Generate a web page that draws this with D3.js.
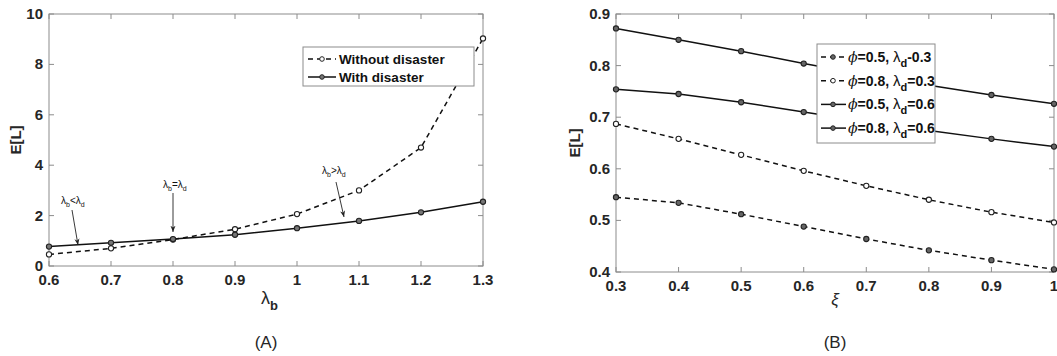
<!DOCTYPE html>
<html>
<head>
<meta charset="utf-8">
<script src="https://cdn.jsdelivr.net/npm/d3@7"></script>
<style>
  html, body { margin: 0; padding: 0; background: #fff; overflow: hidden; }
  svg { display: block; }
  text { font-family: Arial, "Liberation Sans", sans-serif; }
</style>
</head>
<body>
<svg id="chart" width="1057" height="356"></svg>
<script>
// ---- panel A data ----
const lambdaB = [0.6, 0.7, 0.8, 0.9, 1.0, 1.1, 1.2, 1.3]
const withoutDisaster = [0.46, 0.70, 1.05, 1.46, 2.06, 3.0, 4.7, 9.03]
const withDisaster = [0.77, 0.92, 1.07, 1.24, 1.50, 1.79, 2.13, 2.55]
const xTicksA = [0.6, 0.7, 0.8, 0.9, 1, 1.1, 1.2, 1.3]
const yTicksA = [0, 2, 4, 6, 8, 10]

// ---- panel B data ----
const xi = [0.3, 0.4, 0.5, 0.6, 0.7, 0.8, 0.9, 1.0]
const phi05ld03 = [0.545, 0.534, 0.512, 0.488, 0.464, 0.442, 0.423, 0.405]
const phi08ld03 = [0.687, 0.658, 0.627, 0.596, 0.567, 0.540, 0.516, 0.496]
const phi05ld06 = [0.754, 0.745, 0.729, 0.710, 0.691, 0.674, 0.658, 0.643]
const phi08ld06 = [0.872, 0.850, 0.828, 0.804, 0.782, 0.762, 0.743, 0.726]
const xTicksB = [0.3, 0.4, 0.5, 0.6, 0.7, 0.8, 0.9, 1]
const yTicksB = [0.4, 0.5, 0.6, 0.7, 0.8, 0.9]

const svg = d3.select("#chart")
const ink = "#262626"

svg.append("defs").append("marker")
  .attr("id", "arr").attr("viewBox", "0 0 10 10")
  .attr("refX", 10).attr("refY", 5)
  .attr("markerWidth", 7).attr("markerHeight", 7)
  .attr("orient", "auto")
  .append("path").attr("d", "M0,1 L10,5 L0,9 L3,5 Z").attr("fill", "#222")

function panel(cfg) {
  const x = d3.scaleLinear().domain(cfg.xDom).range([cfg.left, cfg.right])
  const y = d3.scaleLinear().domain(cfg.yDom).range([cfg.bottom, cfg.top])
  const g = svg.append("g")

  // box
  g.append("rect")
    .attr("x", cfg.left).attr("y", cfg.top)
    .attr("width", cfg.right - cfg.left).attr("height", cfg.bottom - cfg.top)
    .attr("fill", "none").attr("stroke", "#8c8c8c").attr("stroke-width", 1)

  // ticks, inward, on all sides
  const tl = 5
  cfg.xTicks.forEach(t => {
    g.append("line").attr("x1", x(t)).attr("x2", x(t)).attr("y1", cfg.bottom).attr("y2", cfg.bottom - tl).attr("stroke", "#8c8c8c")
    g.append("line").attr("x1", x(t)).attr("x2", x(t)).attr("y1", cfg.top).attr("y2", cfg.top + tl).attr("stroke", "#8c8c8c")
    g.append("text").attr("x", x(t)).attr("y", cfg.bottom + 19)
      .attr("text-anchor", "middle").attr("font-size", 15).attr("font-weight", "bold").attr("fill", ink)
      .text(cfg.xFmt(t))
  })
  cfg.yTicks.forEach(t => {
    g.append("line").attr("x1", cfg.left).attr("x2", cfg.left + tl).attr("y1", y(t)).attr("y2", y(t)).attr("stroke", "#8c8c8c")
    g.append("line").attr("x1", cfg.right).attr("x2", cfg.right - tl).attr("y1", y(t)).attr("y2", y(t)).attr("stroke", "#8c8c8c")
    g.append("text").attr("x", cfg.left - 6).attr("y", y(t) + 5)
      .attr("text-anchor", "end").attr("font-size", 15).attr("font-weight", "bold").attr("fill", ink)
      .text(cfg.yFmt(t))
  })

  // y label
  g.append("text")
    .attr("transform", `translate(${cfg.yLabelX},${(cfg.top + cfg.bottom) / 2}) rotate(-90)`)
    .attr("text-anchor", "middle").attr("font-size", 15).attr("font-weight", "bold").attr("fill", ink)
    .text("E[L]")

  // series
  const line = d3.line().x(d => x(d[0])).y(d => y(d[1]))
  cfg.series.forEach(s => {
    const pts = cfg.xs.map((v, i) => [v, s.values[i]])
    g.append("path").datum(pts).attr("d", line)
      .attr("fill", "none").attr("stroke", "#111").attr("stroke-width", 1.5)
      .attr("stroke-dasharray", s.dash ? "5,4" : null)
    g.selectAll(null).data(pts).enter().append("circle")
      .attr("cx", d => x(d[0])).attr("cy", d => y(d[1])).attr("r", 2.6)
      .attr("fill", s.fill).attr("stroke", "#222").attr("stroke-width", 1.1)
  })
  return { x, y, g }
}

// ---------- Panel A ----------
const A = panel({
  left: 49, right: 483, top: 14, bottom: 266,
  xDom: [0.6, 1.3], yDom: [0, 10],
  xTicks: xTicksA, yTicks: yTicksA,
  xFmt: d => d3.format("")(d), yFmt: d => d,
  yLabelX: 21, xs: lambdaB,
  series: [
    { values: withoutDisaster, dash: true, fill: "#fff" },
    { values: withDisaster, dash: false, fill: "#777" }
  ]
})

// x label lambda_b
const xlA = A.g.append("text").attr("x", 261).attr("y", 304).attr("font-size", 18).attr("fill", ink)
xlA.append("tspan").text("λ")
xlA.append("tspan").attr("dy", 6).attr("font-size", 13).attr("font-weight", "bold").text("b")
svg.append("text").attr("x", 266).attr("y", 348).attr("text-anchor", "middle")
  .attr("font-family", "DejaVu Serif, serif").attr("font-size", 17).attr("fill", ink).text("(A)")

// legend A
const lgA = A.g.append("g")
lgA.append("rect").attr("x", 303).attr("y", 47).attr("width", 171).attr("height", 39)
  .attr("fill", "#fff").attr("stroke", "#8c8c8c")
;[["Without disaster", true, "#fff", 59], ["With disaster", false, "#777", 77]].forEach(r => {
  lgA.append("line").attr("x1", 308).attr("x2", 336).attr("y1", r[3]).attr("y2", r[3])
    .attr("stroke", "#111").attr("stroke-width", 1.5).attr("stroke-dasharray", r[1] ? "5,4" : null)
  lgA.append("circle").attr("cx", 322).attr("cy", r[3]).attr("r", 2.3).attr("fill", r[2]).attr("stroke", "#222")
  lgA.append("text").attr("x", 339).attr("y", r[3] + 5).attr("font-size", 13.5).attr("font-weight", "bold")
    .attr("fill", "#111").text(r[0])
})

// annotations
function lamText(g, x0, y0, op) {
  const t = g.append("text").attr("x", x0).attr("y", y0).attr("font-size", 10).attr("fill", "#111")
  t.append("tspan").text("λ")
  t.append("tspan").attr("dy", 3).attr("font-size", 7).text("b")
  t.append("tspan").attr("dy", -3).text(op)
  t.append("tspan").text("λ")
  t.append("tspan").attr("dy", 3).attr("font-size", 7).text("d")
}
function arrow(g, x1, y1, x2, y2) {
  g.append("line").attr("x1", x1).attr("y1", y1).attr("x2", x2).attr("y2", y2)
    .attr("stroke", "#222").attr("stroke-width", 0.9).attr("marker-end", "url(#arr)")
}
lamText(A.g, 61, 204, "<")
arrow(A.g, 72, 210, 78, 245)
lamText(A.g, 163, 188, "=")
arrow(A.g, 173, 193, 173, 232)
lamText(A.g, 322, 174, ">")
arrow(A.g, 336, 182, 344, 217)

// ---------- Panel B ----------
const B = panel({
  left: 616, right: 1054, top: 14, bottom: 272,
  xDom: [0.3, 1.0], yDom: [0.4, 0.9],
  xTicks: xTicksB, yTicks: yTicksB,
  xFmt: d => d3.format("")(d), yFmt: d => d3.format(".1f")(d),
  yLabelX: 580, xs: xi,
  series: [
    { values: phi05ld03, dash: true, fill: "#666" },
    { values: phi08ld03, dash: true, fill: "#fff" },
    { values: phi05ld06, dash: false, fill: "#666" },
    { values: phi08ld06, dash: false, fill: "#666" }
  ]
})

svg.append("text").attr("x", 835).attr("y", 305).attr("text-anchor", "middle")
  .attr("font-family", "DejaVu Serif, serif").attr("font-style", "italic").attr("font-size", 17).attr("fill", ink).text("ξ")
svg.append("text").attr("x", 835).attr("y", 348).attr("text-anchor", "middle")
  .attr("font-family", "DejaVu Serif, serif").attr("font-size", 17).attr("fill", ink).text("(B)")

// legend B
const legB = [
  ["0.5", "-0.3", true, "#666"],
  ["0.8", "=0.3", true, "#fff"],
  ["0.5", "=0.6", false, "#666"],
  ["0.8", "=0.6", false, "#666"]
]
const lgB = B.g.append("g")
lgB.append("rect").attr("x", 817).attr("y", 44).attr("width", 118).attr("height", 99)
  .attr("fill", "#fff").attr("stroke", "#8c8c8c")
legB.forEach((r, i) => {
  const yy = 57 + i * 23.7
  lgB.append("line").attr("x1", 821).attr("x2", 846).attr("y1", yy).attr("y2", yy)
    .attr("stroke", "#111").attr("stroke-width", 1.5).attr("stroke-dasharray", r[2] ? "5,4" : null)
  lgB.append("circle").attr("cx", 833).attr("cy", yy).attr("r", 2.3).attr("fill", r[3]).attr("stroke", "#222")
  const t = lgB.append("text").attr("x", 848).attr("y", yy + 5).attr("font-size", 14).attr("font-weight", "bold").attr("fill", "#111")
  t.append("tspan").attr("font-family", "DejaVu Serif, serif").attr("font-style", "italic").attr("font-weight", "normal").text("ϕ")
  t.append("tspan").text("=" + r[0] + ", ")
  t.append("tspan").attr("font-weight", "normal").attr("font-size", 15).text("λ")
  t.append("tspan").attr("dy", 5).attr("font-size", 11).text("d")
  t.append("tspan").attr("dy", -5).text(r[1])
})
</script>
</body>
</html>
